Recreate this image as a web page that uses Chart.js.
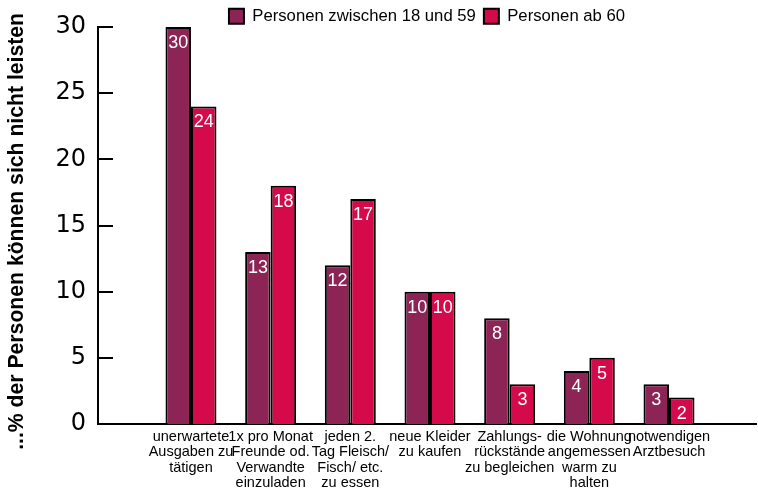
<!DOCTYPE html>
<html lang="de">
<head>
    <meta charset="UTF-8">
    <title>Nicht leistbar</title>
    <style>
        body { margin: 0; background: #fff; }
        .wrap { width: 758px; height: 489px; }
    </style>
</head>
<body>
    <div class="wrap"><canvas id="chart" width="758" height="489"></canvas></div>
    <script src="https://cdn.jsdelivr.net/npm/chart.js"></script>
    <script>
        const categories = [
            ['unerwartete', 'Ausgaben zu', 'tätigen'],
            ['1x pro Monat', 'Freunde od.', 'Verwandte', 'einzuladen'],
            ['jeden 2.', 'Tag Fleisch/', 'Fisch/ etc.', 'zu essen'],
            ['neue Kleider', 'zu kaufen'],
            ['Zahlungs-', 'rückstände', 'zu begleichen'],
            ['die Wohnung', 'angemessen', 'warm zu', 'halten'],
            ['notwendigen', 'Arztbesuch']
        ];
        const age18to59 = [30, 13, 12, 10, 8, 4, 3];
        const age60plus = [24, 18, 17, 10, 3, 5, 2];
        const yTicks = [0, 5, 10, 15, 20, 25, 30];

        const purple = '#8c2555';
        const red = '#d50a4a';
        const sans = '"Liberation Sans", Arial, sans-serif';

        // white numbers near the top of each bar
        const valueLabels = {
            id: 'valueLabels',
            afterDatasetsDraw(chart) {
                const ctx = chart.ctx;
                ctx.save();
                ctx.fillStyle = '#fff';
                ctx.font = '18px ' + sans;
                ctx.textAlign = 'center';
                ctx.textBaseline = 'middle';
                chart.data.datasets.forEach((ds, i) => {
                    chart.getDatasetMeta(i).data.forEach((bar, j) => {
                        ctx.fillText(ds.data[j].y, bar.x, bar.y + 16);
                    });
                });
                ctx.restore();
            }
        };

        // y ticks point into the plot
        const innerTicks = {
            id: 'innerTicks',
            afterDraw(chart) {
                const ctx = chart.ctx;
                const y = chart.scales.y;
                const left = chart.chartArea.left;
                ctx.save();
                ctx.strokeStyle = '#000';
                ctx.lineWidth = 2;
                yTicks.forEach(v => {
                    const py = Math.round(y.getPixelForValue(v));
                    ctx.beginPath();
                    ctx.moveTo(left, py);
                    ctx.lineTo(left + 15, py);
                    ctx.stroke();
                });
                ctx.restore();
            }
        };

        // keep the legend from pushing the plot down too far
        const legendHeight = {
            id: 'legendHeight',
            beforeInit(chart) {
                const fit = chart.legend.fit;
                chart.legend.fit = function () {
                    fit.call(this);
                    this.height = 27;
                };
            }
        };

        new Chart(document.getElementById('chart'), {
            type: 'bar',
            data: {
                datasets: [{
                    label: 'Personen zwischen 18 und 59',
                    data: age18to59.map((v, i) => ({ x: i, y: v })),
                    backgroundColor: purple,
                    borderColor: '#000',
                    borderWidth: 2
                }, {
                    label: 'Personen ab 60',
                    data: age60plus.map((v, i) => ({ x: i, y: v })),
                    backgroundColor: red,
                    borderColor: '#000',
                    borderWidth: 2
                }]
            },
            options: {
                responsive: false,
                animation: false,
                categoryPercentage: 0.64,
                barPercentage: 1,
                layout: { padding: { left: 0, right: 2, top: 0, bottom: 0 } },
                plugins: {
                    tooltip: { enabled: false },
                    legend: {
                        position: 'top',
                        fullSize: false,
                        labels: {
                            color: '#000',
                            font: { family: sans, size: 16.7 },
                            boxWidth: 15,
                            boxHeight: 15,
                            padding: 8
                        }
                    }
                },
                scales: {
                    x: {
                        type: 'linear',
                        offset: false,
                        min: -1.167,
                        max: 7.092,
                        afterFit(scale) { scale.height = 65; },
                        grid: { display: false },
                        border: { display: true, color: '#000', width: 2 },
                        afterBuildTicks(scale) {
                            scale.ticks = categories.map((c, i) => ({ value: i }));
                        },
                        ticks: {
                            autoSkip: false,
                            maxRotation: 0,
                            color: '#000',
                            padding: -3,
                            font: { family: sans, size: 14.5, lineHeight: 1.07 },
                            callback: v => categories[v]
                        }
                    },
                    y: {
                        min: 0,
                        max: 30,
                        afterFit(scale) { scale.width = 98; },
                        afterBuildTicks(scale) {
                            scale.ticks = yTicks.map(v => ({ value: v }));
                        },
                        grid: { display: false },
                        border: { display: true, color: '#000', width: 2 },
                        ticks: {
                            color: '#000',
                            padding: 4,
                            font: { family: '"DejaVu Sans", sans-serif', size: 24 }
                        },
                        title: {
                            display: true,
                            text: '...% der Personen können sich nicht leisten  ',
                            color: '#000',
                            padding: { top: 4, bottom: 0 },
                            font: { family: sans, size: 21.2, weight: 'bold' }
                        }
                    }
                }
            },
            plugins: [valueLabels, innerTicks, legendHeight]
        });
    </script>
</body>
</html>
